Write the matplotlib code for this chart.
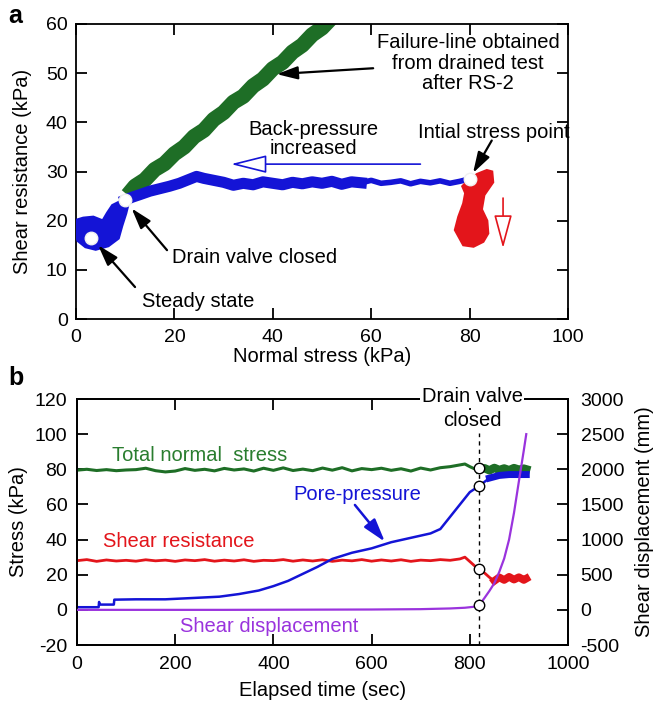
import matplotlib
matplotlib.use("Agg")
import matplotlib.pyplot as plt

plt.rcParams['font.family'] = ['Liberation Sans', 'DejaVu Sans']
plt.rcParams['axes.unicode_minus'] = False

# ---------------- Panel a data ----------------
fail_x = [10.5, 12, 14, 16, 18, 20, 22, 24, 26, 28, 30, 32, 34, 36, 38, 40, 42, 44, 46, 48, 50, 52, 54, 56]
fail_y = [25.2, 27.0, 28.3, 30.4, 31.6, 33.6, 35.0, 37.1, 38.4, 40.6, 42.0, 44.1, 45.3, 47.4, 48.8, 50.9, 52.2, 54.3, 55.7, 57.8, 59.2, 61.3, 62.8, 64.6]

path_x = [80, 78, 76, 74, 72, 70, 68, 66, 64, 62, 60, 58, 56, 54, 52, 50, 48, 46, 44, 42,
          40, 38, 36, 34, 32, 30, 28, 26, 24.5, 23, 21, 19, 17, 15, 13, 11.5, 10]
path_y = [28.5, 28.0, 27.6, 28.1, 27.7, 28.0, 27.5, 28.1, 27.8, 27.6, 28.2, 27.7, 27.9, 27.4,
          28.0, 27.6, 27.9, 27.5, 27.8, 27.3, 27.6, 27.9, 27.3, 27.6, 27.2, 27.8, 28.2, 28.6,
          29.0, 28.4, 27.6, 27.0, 26.5, 26.0, 25.3, 24.8, 24.2]

blob_x = [0.2, 1.5, 3.5, 5.5, 6.5, 7.5, 9.5, 10.5, 10.0, 9.2, 8.5, 6.5, 4.0, 2.0, 0.5, 0.0]
blob_y = [20.0, 20.4, 20.6, 19.8, 21.5, 23.0, 24.0, 23.5, 21.5, 19.0, 16.5, 15.0, 14.3, 14.8, 16.0, 17.5]

red_x = [79.5, 81.5, 83.5, 84.6, 84.8, 83.0, 82.5, 83.6, 83.8, 82.8, 80.8, 78.7, 77.0, 77.7, 78.7, 79.1, 78.5]
red_y = [28.0, 29.5, 30.3, 30.0, 27.8, 25.2, 22.3, 20.0, 17.4, 15.7, 14.7, 15.0, 18.1, 20.8, 23.5, 25.6, 27.0]

pts_a_x = [3.0, 10.0, 80.0]
pts_a_y = [16.5, 24.2, 28.5]

# ---------------- Panel b data ----------------
tn_t = [0, 20, 40, 60, 80, 100, 120, 140, 160, 180, 200, 220, 240, 260, 280, 300, 320, 340, 360, 380,
        400, 420, 440, 460, 480, 500, 520, 540, 560, 580, 600, 620, 640, 660, 680, 700, 720, 740,
        760, 780, 790, 800, 810, 820]
tn_v = [79.5, 80.0, 79.3, 79.8, 79.2, 79.6, 79.8, 80.6, 79.2, 78.5, 79.0, 80.4, 79.4, 80.0, 79.1,
        80.5, 79.6, 80.2, 79.0, 80.6, 79.4, 80.8, 79.3, 80.1, 79.2, 80.7, 79.5, 80.9, 79.1, 80.4,
        79.8, 80.6, 79.4, 80.3, 79.0, 80.7, 79.6, 80.9, 81.5, 82.5, 83.0, 81.5, 80.2, 80.0]
tn_end_t = [820, 830, 840, 850, 860, 870, 880, 890, 900, 910, 915]
tn_end_v = [80.0, 80.6, 79.4, 80.8, 79.6, 80.5, 79.5, 80.7, 79.8, 80.4, 80.0]

sr_t = [0, 20, 40, 60, 80, 100, 120, 140, 160, 180, 200, 220, 240, 260, 280, 300, 320, 340, 360, 380,
        400, 420, 440, 460, 480, 500, 520, 540, 560, 580, 600, 620, 640, 660, 680, 700, 720, 740,
        760, 780, 790, 800, 810, 819, 830, 840, 850]
sr_v = [28.0, 28.6, 27.6, 28.4, 27.8, 28.2, 27.7, 28.5, 27.9, 28.3, 27.6, 28.4, 28.0, 28.6, 27.7,
        28.3, 27.8, 28.5, 27.6, 28.2, 28.0, 28.6, 27.7, 28.4, 27.8, 28.5, 27.6, 28.3, 27.9, 28.6,
        27.7, 28.4, 27.8, 28.5, 27.6, 28.3, 28.0, 28.6, 28.2, 29.0, 30.0, 27.5, 25.0, 23.0, 21.0,
        18.5, 16.5]
sr_end_t = [850, 860, 870, 880, 890, 900, 910, 915]
sr_end_v = [16.5, 18.5, 17.0, 18.8, 17.2, 18.6, 17.0, 17.8]

pp_t = [0, 44, 45, 46, 47, 75, 76, 120, 180, 240, 290, 330, 370, 400, 430, 460, 490, 520, 560, 600,
        640, 680, 720, 740, 760, 780, 800, 819, 840]
pp_v = [1.5, 1.5, 4.5, 3.0, 3.0, 3.0, 5.8, 6.0, 6.0, 6.8, 7.5, 9.0, 11.0, 13.5, 16.5, 20.5, 24.5,
        29.0, 32.5, 35.0, 38.5, 41.0, 43.5, 46.0, 53.0, 60.0, 67.0, 70.5, 75.0]
pp_end_t = [840, 860, 880, 900, 915]
pp_end_v = [75.0, 76.5, 77.0, 77.0, 77.0]

sd_t = [0, 300, 600, 700, 760, 790, 810, 819, 830, 840, 850, 860, 870, 880, 890, 900, 910, 915]
sd_v = [0, 0, 5, 10, 20, 30, 45, 65, 170, 270, 380, 540, 730, 1000, 1380, 1830, 2270, 2500]

pts_b_t = [819, 819, 819]
pts_b_v = [80.5, 70.5, 23.0]
pt_sd_t = [819]
pt_sd_v = [65]

GREEN = '#1e6e26'
GREEN_T = '#2a7d2f'
BLUE = '#1414d6'
RED = '#e3151b'
PURPLE = '#9a33dd'

FS = 14.5     # labels / annotations
TS = 14       # tick labels

fig = plt.figure(figsize=(6.59, 7.05), dpi=100)

# ================= Panel a =================
axa = fig.add_axes([76 / 659, 1 - 319 / 705, 492 / 659, 295 / 705])
axa.plot(fail_x, fail_y, color=GREEN, lw=11, solid_capstyle='butt', zorder=2)
axa.plot(path_x[:12], path_y[:12], color=BLUE, lw=4, zorder=3)
axa.plot(path_x[11:], path_y[11:], color=BLUE, lw=8, zorder=3, solid_joinstyle='round')
axa.fill(blob_x, blob_y, color=BLUE, lw=3, ec=BLUE, zorder=3)
axa.fill(red_x, red_y, color=RED, lw=1.5, ec=RED, zorder=3)
axa.plot(pts_a_x, pts_a_y, 'o', ms=9, mfc='white', mec='#f0f0f0', zorder=5)

axa.set_xlim(0, 100)
axa.set_ylim(0, 60)
axa.set_xticks([0, 20, 40, 60, 80, 100])
axa.set_yticks([0, 10, 20, 30, 40, 50, 60])
axa.tick_params(direction='in', length=8, width=1.3, top=True, right=True, labelsize=TS)
axa.tick_params(axis='x', pad=7)
axa.tick_params(axis='y', pad=6)
for s in axa.spines.values():
    s.set_linewidth(1.3)
axa.set_xlabel('Normal stress (kPa)', fontsize=FS, labelpad=1)
axa.set_ylabel('Shear resistance (kPa)', fontsize=FS, labelpad=10)

blk = dict(arrowstyle='-|>,head_length=0.9,head_width=0.28', color='black', lw=1.6,
           mutation_scale=14, shrinkA=0, shrinkB=0)
axa.annotate('', xy=(40.8, 49.8), xytext=(60.4, 51.0), arrowprops=blk, zorder=6)
axa.annotate('', xy=(80.7, 29.7), xytext=(84.5, 36.3), arrowprops=blk, zorder=6)
axa.annotate('', xy=(11.3, 22.5), xytext=(18.5, 14.0), arrowprops=blk, zorder=6)
axa.annotate('', xy=(4.5, 15.0), xytext=(12.0, 6.5), arrowprops=blk, zorder=6)

axa.annotate('', xy=(31.5, 31.5), xytext=(70, 31.5),
             arrowprops=dict(arrowstyle='-|>,head_length=1.4,head_width=0.35', fc='white', ec=BLUE,
                             lw=1.2, mutation_scale=16, shrinkA=0, shrinkB=0))
axa.annotate('', xy=(86.8, 14.4), xytext=(86.8, 24.6),
             arrowprops=dict(arrowstyle='-|>,head_length=1.3,head_width=0.35', fc='white', ec=RED,
                             lw=1.2, mutation_scale=16, shrinkA=0, shrinkB=0))

axa.text(79.7, 52.0, 'Failure-line obtained\nfrom drained test\nafter RS-2', ha='center', va='center',
         fontsize=FS, linespacing=1.1)
axa.text(48.2, 36.7, 'Back-pressure\nincreased', ha='center', va='center', fontsize=FS, linespacing=1.0)
axa.text(85.0, 37.9, 'Intial stress point', ha='center', va='center', fontsize=FS)
axa.text(19.5, 12.6, 'Drain valve closed', ha='left', va='center', fontsize=FS)
axa.text(13.4, 3.5, 'Steady state', ha='left', va='center', fontsize=FS)

fig.text(8 / 659, 1 - 16 / 705, 'a', fontsize=18, fontweight='bold', ha='left', va='center')

# ================= Panel b =================
axb = fig.add_axes([77 / 659, 1 - 645 / 705, 491 / 659, 246 / 705])
axb.plot(tn_t, tn_v, color=GREEN, lw=2.2, zorder=3)
axb.plot(tn_end_t, tn_end_v, color=GREEN, lw=6, zorder=3)
axb.plot(sr_t, sr_v, color=RED, lw=2.0, zorder=3)
axb.plot(sr_end_t, sr_end_v, color=RED, lw=5.5, zorder=3)
axb.plot(pp_t, pp_v, color=BLUE, lw=1.8, zorder=3)
axb.plot(pp_end_t, pp_end_v, color=BLUE, lw=5, zorder=3)
axb.plot([819, 819], [-20, 100.5], color='black', lw=1.0, ls=(0, (3, 3)), zorder=2)

axb.set_xlim(0, 1000)
axb.set_ylim(-20, 120)
axb.set_xticks([0, 200, 400, 600, 800, 1000])
axb.set_yticks([-20, 0, 20, 40, 60, 80, 100, 120])
axb.tick_params(direction='in', length=8, width=1.3, top=True, labelsize=TS)
axb.tick_params(axis='x', pad=8)
axb.tick_params(axis='y', pad=7)
for s in axb.spines.values():
    s.set_linewidth(1.3)
axb.set_xlabel('Elapsed time (sec)', fontsize=FS, labelpad=6)
axb.set_ylabel('Stress (kPa)', fontsize=FS, labelpad=5)

axr = axb.twinx()
axr.plot(sd_t, sd_v, color=PURPLE, lw=1.6, zorder=3)
axr.plot(pt_sd_t, pt_sd_v, 'o', ms=7.5, mfc='white', mec='black', mew=1.0, zorder=6)
axr.set_ylim(-500, 3000)
axr.set_yticks([-500, 0, 500, 1000, 1500, 2000, 2500, 3000])
axr.tick_params(direction='in', length=8, width=1.3, labelsize=TS, pad=9)
for s in axr.spines.values():
    s.set_linewidth(1.3)
axr.set_ylabel('Shear displacement (mm)', fontsize=FS, rotation=90, labelpad=8)

for tt, vv in zip(pts_b_t, pts_b_v):
    axr.plot([tt], [(vv + 20) / 140 * 3500 - 500], 'o', ms=7.5, mfc='white', mec='black', mew=1.0, zorder=6)

axr.annotate('', xy=(627, (38.8 + 20) / 140 * 3500 - 500), xytext=(566, (59.7 + 20) / 140 * 3500 - 500),
             arrowprops=dict(arrowstyle='-|>,head_length=1.0,head_width=0.3', color=BLUE, lw=1.8,
                             mutation_scale=14, shrinkA=0, shrinkB=0), zorder=6)

axb.text(70.6, 88.1, 'Total normal  stress', color=GREEN_T, ha='left', va='center', fontsize=FS)
axb.text(440.6, 65.4, 'Pore-pressure', color=BLUE, ha='left', va='center', fontsize=FS)
axb.text(53.6, 38.8, 'Shear resistance', color=RED, ha='left', va='center', fontsize=FS)
axb.text(209.8, -9.6, 'Shear displacement', color=PURPLE, ha='left', va='center', fontsize=FS)

axr.text(805, (121.3 + 20) / 140 * 3500 - 500, 'Drain valve', ha='center', va='center', fontsize=FS,
         zorder=10, bbox=dict(fc='white', ec='none', pad=1.0))
axr.text(806, (107.5 + 20) / 140 * 3500 - 500, 'closed', ha='center', va='center', fontsize=FS,
         zorder=10, bbox=dict(fc='white', ec='none', pad=0.5))

fig.text(8 / 659, 1 - 378 / 705, 'b', fontsize=18, fontweight='bold', ha='left', va='center')

fig.savefig('out.png', dpi=100)
